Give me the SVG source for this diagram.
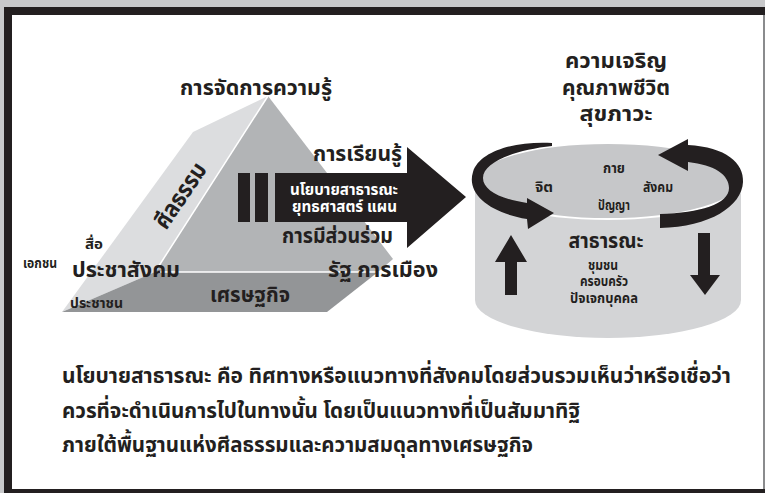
<svg xmlns="http://www.w3.org/2000/svg" width="765" height="493" viewBox="0 0 765 493">
<style>
text{font-family:"Noto Sans Thai","Noto Sans","DejaVu Sans",sans-serif;font-weight:bold;fill:#231f20}
.big{font-size:21px}
.mid{font-size:14px}
.sm{font-size:14px}
.wt{fill:#ffffff;font-size:16px}
.para{font-size:22px}
.c{text-anchor:middle}
.blk{fill:#231f20}
</style>
<rect x="0" y="0" width="765" height="493" fill="#c8c9cb"/>
<rect x="4" y="7" width="761" height="486" fill="#231f20"/>
<rect x="12" y="15" width="751" height="474" fill="#ffffff"/>
<rect x="763" y="15" width="2" height="474" fill="#8a8b8d"/>

<g id="pyramid">
  <polygon points="193,132 268,96 155,272 62,312" fill="#dcdddf"/>
  <polygon points="268,96 393,259 378,272 155,272" fill="#b2b4b6"/>
  <polygon points="155,272 378,272 327,312 62,312" fill="#939597"/>
  <line x1="268" y1="96" x2="155" y2="272" stroke="#ffffff" stroke-width="1.5"/>
  <line x1="155" y1="272" x2="380" y2="272" stroke="#ffffff" stroke-width="1.5"/>
  <text class="big" x="180" y="95" textLength="152" lengthAdjust="spacingAndGlyphs">การจัดการความรู้</text>
  <text class="big" transform="translate(187,200) rotate(-56)" text-anchor="middle" style="font-size:24px" textLength="74" lengthAdjust="spacingAndGlyphs">ศีลธรรม</text>
  <text class="sm" x="85" y="249" textLength="18" lengthAdjust="spacingAndGlyphs">สื่อ</text>
  <text class="sm" x="23" y="268" textLength="34" lengthAdjust="spacingAndGlyphs">เอกชน</text>
  <text class="big" x="72" y="277" textLength="108" lengthAdjust="spacingAndGlyphs">ประชาสังคม</text>
  <text class="sm" x="70" y="308" textLength="53" lengthAdjust="spacingAndGlyphs">ประชาชน</text>
  <text class="big" x="210" y="302" textLength="80" lengthAdjust="spacingAndGlyphs">เศรษฐกิจ</text>
  <text class="big" x="328" y="277" textLength="110" lengthAdjust="spacingAndGlyphs">รัฐ การเมือง</text>
</g>

<g id="cylinder">
  <path d="M475,181 L475,300 A133,38 0 0 0 741,300 L741,181 Z" fill="#d3d4d6"/>
  <ellipse cx="608" cy="181" rx="133" ry="38" fill="#c6c7c9" stroke="#ffffff" stroke-width="2"/>
  <text class="mid c" x="614" y="173" textLength="22" lengthAdjust="spacingAndGlyphs">กาย</text>
  <text class="mid c" x="544" y="192" textLength="18" lengthAdjust="spacingAndGlyphs">จิต</text>
  <text class="mid c" x="658" y="192" textLength="30" lengthAdjust="spacingAndGlyphs">สังคม</text>
  <text class="mid c" x="614" y="210" textLength="32" lengthAdjust="spacingAndGlyphs">ปัญญา</text>
  <text class="big c" x="606" y="248" textLength="75" lengthAdjust="spacingAndGlyphs">สาธารณะ</text>
  <text class="mid c" x="603" y="270" textLength="30" lengthAdjust="spacingAndGlyphs">ชุมชน</text>
  <text class="mid c" x="604" y="286" textLength="48" lengthAdjust="spacingAndGlyphs">ครอบครัว</text>
  <text class="mid c" x="604" y="303" textLength="68" lengthAdjust="spacingAndGlyphs">ปัจเจกบุคคล</text>
</g>

<g id="outcome">
  <text class="big c" x="616" y="68" style="font-size:22px" textLength="102" lengthAdjust="spacingAndGlyphs">ความเจริญ</text>
  <text class="big c" x="616" y="95" style="font-size:22px" textLength="108" lengthAdjust="spacingAndGlyphs">คุณภาพชีวิต</text>
  <text class="big c" x="616" y="121" style="font-size:22px" textLength="73" lengthAdjust="spacingAndGlyphs">สุขภาวะ</text>
</g>

<g id="connectors">
  <rect class="blk" x="238" y="173" width="12" height="49"/>
  <rect class="blk" x="255" y="173" width="13" height="49"/>
  <polygon class="blk" points="275,173 407,173 407,147 466,197 407,248 407,222 275,222"/>
  <path class="blk" d="M552,143 C518,141 480,150 473,172 C466,194 490,213 527,219 L528,229 L554,213 L527,198 L527,203 C500,199 483,190 483,178 C483,162 515,150 552,146 Z"/>
  <path class="blk" d="M660,214 C700,213 729,204 729,188 C729,175 715,165 688,162 L688,171 L658,155 L688,139 L688,145 C726,147 744,163 743,182 C742,206 710,227 660,228 Z"/>
  <polygon class="blk" points="511,235 527,262 517,262 517,295 505,295 505,262 495,262"/>
  <polygon class="blk" points="698,233 710,233 710,275 720,275 705,295 690,275 698,275"/>
</g>

<g id="arrow-labels">
  <text class="big" x="313" y="161" textLength="89" lengthAdjust="spacingAndGlyphs">การเรียนรู้</text>
  <text class="wt" x="290" y="195" textLength="108" lengthAdjust="spacingAndGlyphs">นโยบายสาธารณะ</text>
  <text class="wt" x="292" y="212" textLength="105" lengthAdjust="spacingAndGlyphs">ยุทธศาสตร์ แผน</text>
  <text class="big" x="282" y="243" textLength="111" lengthAdjust="spacingAndGlyphs">การมีส่วนร่วม</text>
</g>

<g id="definition">
  <text class="para" x="62" y="383" textLength="669" lengthAdjust="spacingAndGlyphs">นโยบายสาธารณะ คือ ทิศทางหรือแนวทางที่สังคมโดยส่วนรวมเห็นว่าหรือเชื่อว่า</text>
  <text class="para" x="62" y="418" textLength="518" lengthAdjust="spacingAndGlyphs">ควรที่จะดำเนินการไปในทางนั้น โดยเป็นแนวทางที่เป็นสัมมาทิฐิ</text>
  <text class="para" x="62" y="452" textLength="471" lengthAdjust="spacingAndGlyphs">ภายใต้พื้นฐานแห่งศีลธรรมและความสมดุลทางเศรษฐกิจ</text>
</g>
</svg>
